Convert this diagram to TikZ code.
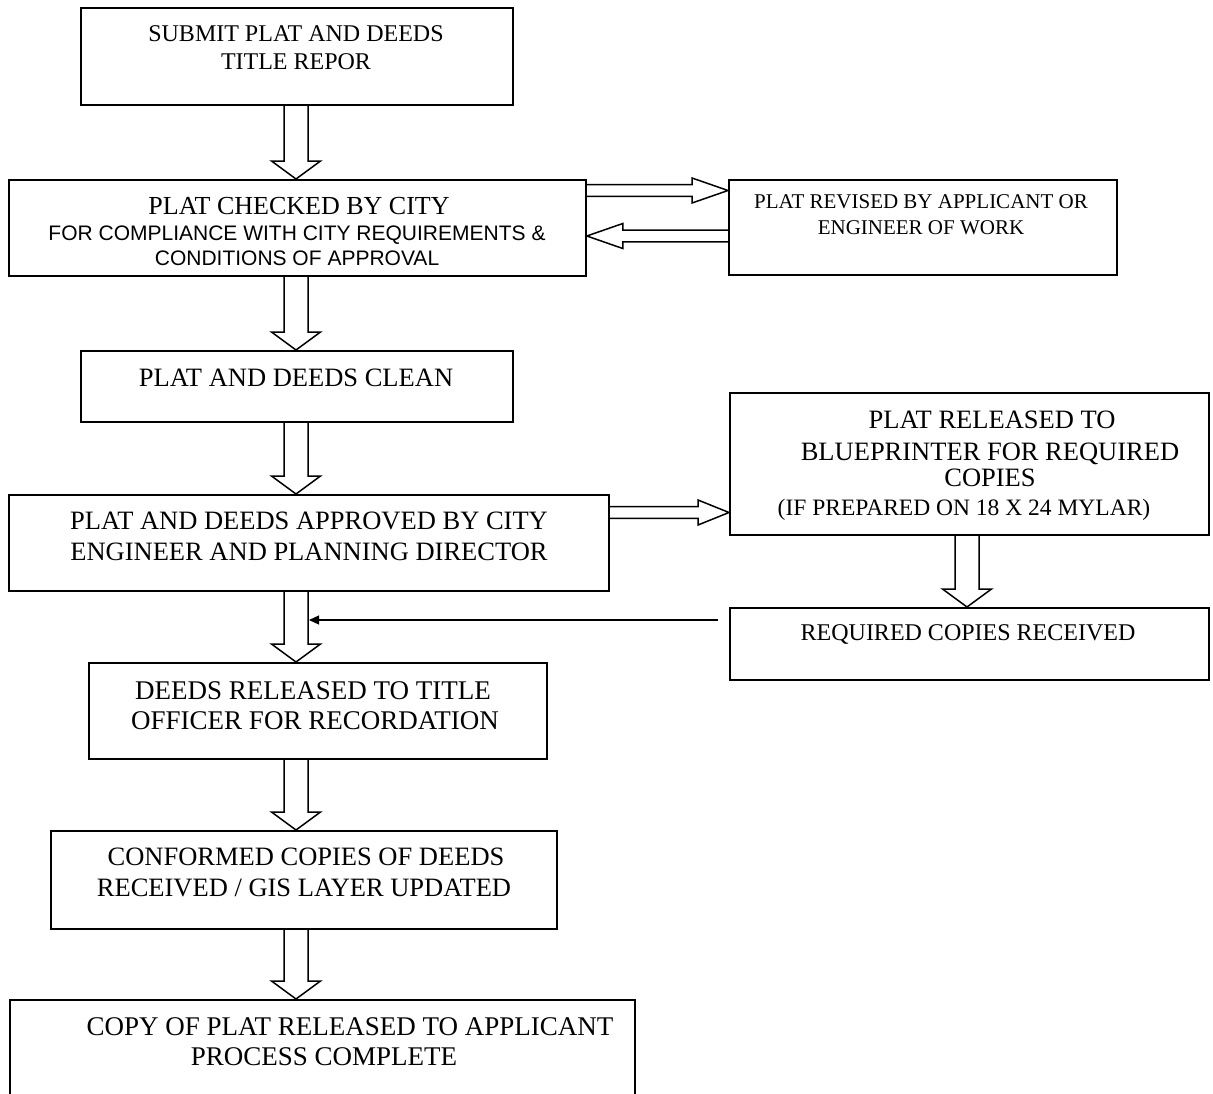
\documentclass[tikz,border=0pt]{standalone}
\usepackage{fontspec}
\setmainfont{Liberation Serif}
\newfontfamily\arialfam{Liberation Sans}
\usetikzlibrary{calc,arrows.meta}
\tikzset{
  box/.style={draw, line width=1.8pt, rectangle, inner sep=0pt, anchor=north west},
  ln/.style={inner sep=0pt, anchor=base},
  hollow/.style={draw, line width=1.5pt, line join=miter},
  thin/.style={draw, line width=1.1pt, -{Triangle[length=10pt,width=9pt]}},
}
\newcommand\fs[1]{\fontsize{#1}{#1}\selectfont}
% vertical hollow arrow: from node #1 (south) to node #2 (north) along x of coordinate #3
\newcommand\vhollow[3]{%
  \draw[hollow] let \p1=(#1.south -| #3), \p2=(#2.north -| #3) in
    (\x1-12pt,\y1) -- (\x1-12pt,\y2+18pt) -- (\x1-24.5pt,\y2+18pt) -- (\x2,\y2)
    -- (\x1+24.5pt,\y2+18pt) -- (\x1+12pt,\y2+18pt) -- (\x1+12pt,\y1);}
% horizontal hollow arrow to the right: from node #1 (east) to node #2 (west) at y of coordinate #3, head length #4
\newcommand\rhollow[4]{%
  \draw[hollow] let \p1=(#1.east |- #3), \p2=(#2.west |- #3) in
    (\x1,\y1+5.8pt) -- (\x2-#4,\y1+5.8pt) -- (\x2-#4,\y1+12.5pt) -- (\x2,\y1)
    -- (\x2-#4,\y1-12.5pt) -- (\x2-#4,\y1-5.8pt) -- (\x1,\y1-5.8pt);}
% horizontal hollow arrow to the left: from node #1 (west) to node #2 (east)
\newcommand\lhollow[4]{%
  \draw[hollow] let \p1=(#1.west |- #3), \p2=(#2.east |- #3) in
    (\x1,\y1+5.8pt) -- (\x2+#4,\y1+5.8pt) -- (\x2+#4,\y1+12.5pt) -- (\x2,\y1)
    -- (\x2+#4,\y1-12.5pt) -- (\x2+#4,\y1-5.8pt) -- (\x1,\y1-5.8pt);}
\begin{document}
\begin{tikzpicture}[x=1pt,y=-1pt]
\useasboundingbox (0,0) rectangle (1213,1093);
\fill[white] (0,0) rectangle (1213,1093);
% boxes
\node[box, minimum width=432pt, minimum height=97pt] (b1) at (80,7) {};
\node[box, minimum width=577pt, minimum height=96pt] (b2) at (8,179) {};
\node[box, minimum width=388pt, minimum height=95pt] (b3) at (728,179) {};
\node[box, minimum width=432pt, minimum height=71pt] (b4) at (80,350) {};
\node[box, minimum width=600pt, minimum height=96pt] (b5) at (8,494) {};
\node[box, minimum width=479pt, minimum height=142pt] (b6) at (729,392) {};
\node[box, minimum width=479pt, minimum height=72pt] (b7) at (729,607) {};
\node[box, minimum width=458pt, minimum height=96pt] (b8) at (88,662) {};
\node[box, minimum width=506pt, minimum height=98pt] (b9) at (50,830) {};
\node[box, minimum width=625pt, minimum height=100pt] (b10) at (9,999) {};
% spines and levels
\coordinate (spine) at (296,0);
\coordinate (spineR) at (967,0);
\coordinate (yA) at (0,190.5);
\coordinate (yB) at (0,236);
\coordinate (yC) at (0,512.5);
\coordinate (thinS) at (718,620);
\coordinate (thinE) at (309,620);
% texts
\node[ln, font=\fs{24}] (t1a) at (296,41) {SUBMIT PLAT AND DEEDS};
\node[ln, font=\fs{24}] (t1b) at (296,69) {TITLE REPOR};
\node[ln, font=\fs{26}] (t2a) at (299,214.6) {PLAT CHECKED BY CITY};
\node[ln, font=\arialfam\fs{21}] (t2b) at (297,240.5) {FOR COMPLIANCE WITH CITY REQUIREMENTS \&};
\node[ln, font=\arialfam\fs{21}] (t2c) at (297,265.5) {CONDITIONS OF APPROVAL};
\node[ln, font=\fs{21}] (t3a) at (921,208) {PLAT REVISED BY APPLICANT OR};
\node[ln, font=\fs{21}] (t3b) at (921,234) {ENGINEER OF WORK};
\node[ln, font=\fs{26.5}] (t4a) at (296,386.7) {PLAT AND DEEDS CLEAN};
\node[ln, font=\fs{26.5}] (t5a) at (309,529.7) {PLAT AND DEEDS APPROVED BY CITY};
\node[ln, font=\fs{26.5}] (t5b) at (309,560.7) {ENGINEER AND PLANNING DIRECTOR};
\node[ln, font=\fs{26.5}] (t6a) at (992,428.7) {PLAT RELEASED TO};
\node[ln, font=\fs{26.5}] (t6b) at (990,460.7) {BLUEPRINTER FOR REQUIRED};
\node[ln, font=\fs{26.5}] (t6c) at (990,486.7) {COPIES};
\node[ln, font=\fs{23.5}] (t6d) at (964,515.8) {(IF PREPARED ON 18 X 24 MYLAR)};
\node[ln, font=\fs{24}] (t7a) at (968,640) {REQUIRED COPIES RECEIVED};
\node[ln, font=\fs{27}] (t8a) at (313,699) {DEEDS RELEASED TO TITLE};
\node[ln, font=\fs{27}] (t8b) at (315,729) {OFFICER FOR RECORDATION};
\node[ln, font=\fs{26.5}] (t9a) at (306,865.7) {CONFORMED COPIES OF DEEDS};
\node[ln, font=\fs{26.5}] (t9b) at (304,896.7) {RECEIVED / GIS LAYER UPDATED};
\node[ln, font=\fs{27}] (t10a) at (350,1035) {COPY OF PLAT RELEASED TO APPLICANT};
\node[ln, font=\fs{27}] (t10b) at (324,1065) {PROCESS COMPLETE};
% hollow arrows
\vhollow{b1}{b2}{spine}
\vhollow{b2}{b4}{spine}
\vhollow{b4}{b5}{spine}
\vhollow{b5}{b8}{spine}
\vhollow{b8}{b9}{spine}
\vhollow{b9}{b10}{spine}
\vhollow{b6}{b7}{spineR}
\rhollow{b2}{b3}{yA}{36pt}
\lhollow{b3}{b2}{yB}{36pt}
\rhollow{b5}{b6}{yC}{31pt}
% thin arrow
\draw[thin] (thinS) -- (thinE);
\end{tikzpicture}
\end{document}
